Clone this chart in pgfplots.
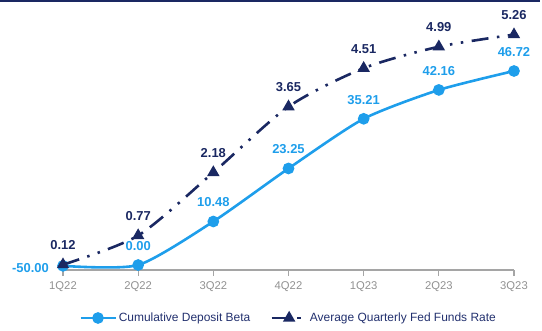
\documentclass[border=0pt]{standalone}
\usepackage{pgfplots}
\pgfplotsset{compat=1.18}
\usepackage{fontspec}
\setmainfont{Liberation Sans}
\definecolor{cblue}{RGB}{30,158,235}
\definecolor{cnavy}{RGB}{26,40,98}
\definecolor{cgray}{RGB}{165,165,165}
\definecolor{ctick}{RGB}{145,145,145}
\definecolor{clegend}{RGB}{34,48,110}
\begin{document}
\begin{tikzpicture}
\useasboundingbox (-63bp,-61bp) rectangle (479bp,270bp);
\fill[cnavy] (-63bp,268bp) rectangle (477bp,270bp);
\begin{axis}[
  scale only axis, width=451bp, height=250bp,
  xmin=0, xmax=6, ymin=-1.2, ymax=59,
  axis x line*=bottom, axis y line=none,
  x axis line style={cgray, line width=1.3bp, -},
  xtick={0,1,2,3,4,5,6},
  xticklabels={1Q22,2Q22,3Q22,4Q22,1Q23,2Q23,3Q23},
  tick align=outside, major tick length=6bp,
  tick style={cgray, line width=1.1bp},
  xticklabel style={font=\fontsize{11.3}{12}\selectfont, text=ctick, yshift=-2.5bp},
  clip=false,
]
\addplot[cblue, line width=2.6bp, smooth, tension=0.4, mark=*, mark size=4.5bp,
  mark options={solid, fill=cblue, draw=cblue}]
  coordinates {(0,-0.2) (1,0) (2,10.48) (3,23.25) (4,35.21) (5,42.16) (6,46.72)};
\addplot[draw=none, mark=none, forget plot, nodes near coords, point meta=explicit symbolic,
  every node near coord/.append style={anchor=base, yshift=14.5bp, inner sep=0pt,
    font=\bfseries\fontsize{13}{13}\selectfont, text=cblue}]
  coordinates {(1,0)[0.00] (2,10.48)[10.48] (3,23.25)[23.25] (4,35.21)[35.21] (5,42.16)[42.16] (6,46.72)[46.72]};
\addplot[draw=none, mark=none, forget plot, nodes near coords, point meta=explicit symbolic,
  every node near coord/.append style={anchor=base east, xshift=-14bp, yshift=-6.5bp, inner sep=0pt,
    font=\bfseries\fontsize{13}{13}\selectfont, text=cblue}]
  coordinates {(0,-0.2)[-50.00]};
\end{axis}
\begin{axis}[
  scale only axis, width=451bp, height=250bp,
  xmin=0, xmax=6, ymin=0, ymax=5.587,
  hide axis, clip=false,
  legend style={at={(0.5,-0.192)}, anchor=center, draw=none, fill=none,
    legend columns=2, font=\fontsize{12}{14}\selectfont, text=clegend,
    /tikz/every even column/.append style={column sep=18bp}},
  legend image code/.code={\draw[mark repeat=2, mark phase=2] plot coordinates {(0bp,0bp) (17.5bp,0bp) (35bp,0bp)};},
]
\addlegendimage{cblue, line width=2.6bp, mark=*, mark size=4.5bp, mark options={solid, fill=cblue, draw=cblue}}
\addlegendentry{Cumulative Deposit Beta}
\addplot[cnavy, line width=2.6bp, smooth, tension=0.45, dash pattern=on 17bp off 8.5bp on 2.5bp off 8.5bp on 2.5bp off 8.5bp,
  mark=triangle*, mark size=4.6bp, mark options={solid, fill=cnavy, draw=cnavy}]
  coordinates {(0,0.12) (1,0.77) (2,2.18) (3,3.65) (4,4.51) (5,4.99) (6,5.26)};
\addlegendentry{Average Quarterly Fed Funds Rate}
\addplot[draw=none, mark=none, forget plot, nodes near coords, point meta=explicit symbolic,
  every node near coord/.append style={anchor=base, yshift=15bp, inner sep=0pt,
    font=\bfseries\fontsize{13}{13}\selectfont, text=cnavy}]
  coordinates {(0,0.12)[0.12] (1,0.77)[0.77] (2,2.18)[2.18] (3,3.65)[3.65] (4,4.51)[4.51] (5,4.99)[4.99] (6,5.26)[5.26]};
\end{axis}
\end{tikzpicture}
\end{document}
